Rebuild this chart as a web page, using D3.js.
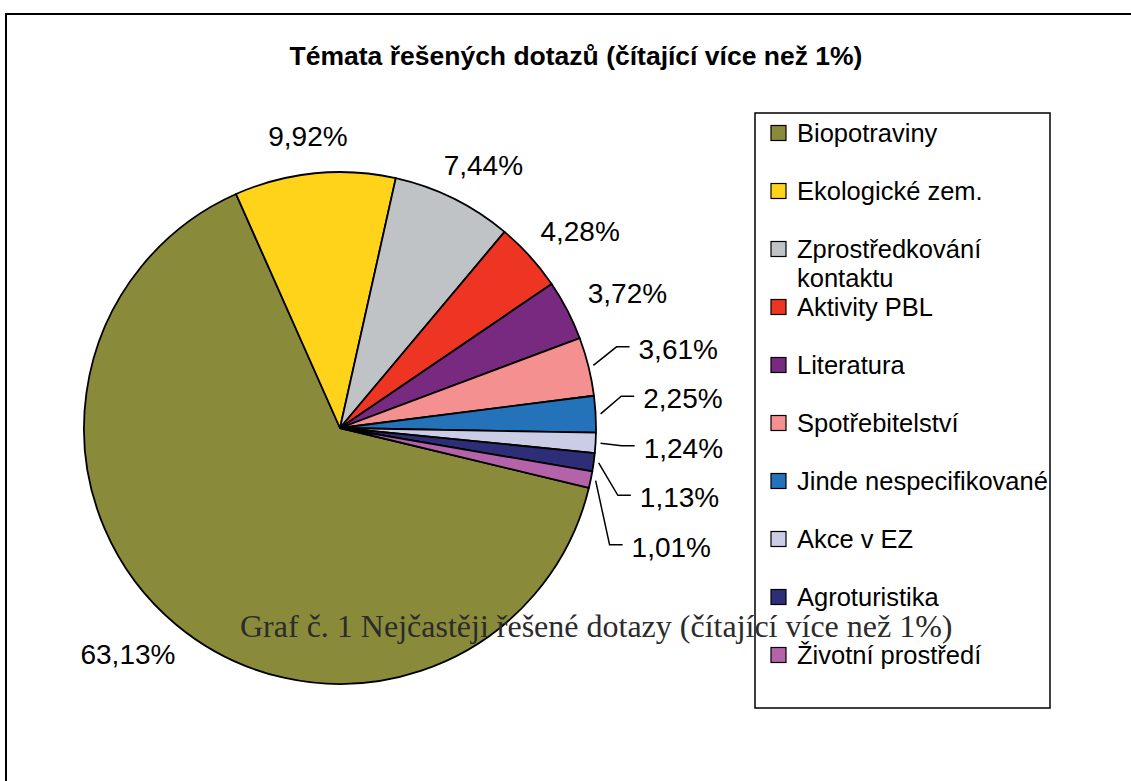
<!DOCTYPE html>
<html>
<head>
<meta charset="utf-8">
<script src="https://cdn.jsdelivr.net/npm/d3@7"></script>
<style>
  body { margin: 0; background: #fff; }
  svg { display: block; font-family: "Liberation Sans", Arial, sans-serif; }
</style>
</head>
<body>
<div id="chart"></div>
<script>
const categories = [
    'Biopotraviny',
    'Ekologické zem.',
    'Zprostředkování kontaktu',
    'Aktivity PBL',
    'Literatura',
    'Spotřebitelství',
    'Jinde nespecifikované',
    'Akce v EZ',
    'Agroturistika',
    'Životní prostředí'
];
const shares = [63.13, 9.92, 7.44, 4.28, 3.72, 3.61, 2.25, 1.24, 1.13, 1.01];
const sliceColors = [
    '#8a8b3a', '#ffd319', '#c0c3c6', '#ee3524', '#782a80',
    '#f49090', '#2472ba', '#cbcde6', '#2e2d78', '#b463aa'
];
const chartTitle = 'Témata řešených dotazů (čítající více než 1%)';
const caption = 'Graf č. 1 Nejčastěji řešené dotazy (čítající více než 1%)';

const width = 1131, height = 781;
const cx = 340, cy = 428, radius = 256;
const startAngle = 103.5 * Math.PI / 180;

const czech = d3.formatLocale({ decimal: ',', thousands: ' ', grouping: [3], currency: ['', ' Kč'] });
const fmt = v => czech.format('.2f')(v) + '%';

const svg = d3.select('#chart').append('svg')
    .attr('width', width)
    .attr('height', height);

// outer frame (only top and left edges are visible in the crop)
svg.append('path')
    .attr('d', `M6,${height} V14 H${width}`)
    .attr('fill', 'none')
    .attr('stroke', '#000')
    .attr('stroke-width', 2);

svg.append('text')
    .attr('x', 576)
    .attr('y', 65)
    .attr('text-anchor', 'middle')
    .style('font-size', '26.5px')
    .style('font-weight', 'bold')
    .text(chartTitle);

// legend
const legendBox = { x: 755, y: 113, w: 295, h: 595 };
const legend = svg.append('g');
legend.append('rect')
    .attr('x', legendBox.x)
    .attr('y', legendBox.y)
    .attr('width', legendBox.w)
    .attr('height', legendBox.h)
    .attr('fill', '#fff')
    .attr('stroke', '#000')
    .attr('stroke-width', 1.5);

const legendY = d3.scalePoint()
    .domain(categories)
    .range([legendBox.y + 20, legendBox.y + legendBox.h - 53]);

const items = legend.selectAll('g.item')
    .data(categories)
    .enter().append('g')
    .attr('class', 'item')
    .attr('transform', d => `translate(${legendBox.x + 16}, ${legendY(d)})`);

items.append('rect')
    .attr('x', 0)
    .attr('y', -7.5)
    .attr('width', 15)
    .attr('height', 15)
    .attr('fill', (d, i) => sliceColors[i])
    .attr('stroke', '#000')
    .attr('stroke-width', 1.2);

items.append('text')
    .attr('x', 26)
    .attr('dy', '0.36em')
    .style('font-size', '25.5px')
    .each(function(d) {
        // wrap long names onto a second line like the original legend
        const t = d3.select(this);
        t.text(d);
        if (this.getComputedTextLength() > 270) {
            const words = d.split(' ');
            t.text(null);
            t.append('tspan').attr('x', 26).text(words.slice(0, -1).join(' '));
            t.append('tspan').attr('x', 26).attr('dy', '1.12em').text(words[words.length - 1]);
        }
    });

// pie
const pie = d3.pie()
    .sort(null)
    .value(d => d)
    .startAngle(startAngle)
    .endAngle(startAngle + 2 * Math.PI);
const arcs = pie(shares);
const arc = d3.arc().innerRadius(0).outerRadius(radius);

const g = svg.append('g')
    .attr('transform', `translate(${cx}, ${cy})`);

g.selectAll('path.slice')
    .data(arcs)
    .enter().append('path')
    .attr('class', 'slice')
    .attr('d', arc)
    .attr('fill', (d, i) => sliceColors[i])
    .attr('stroke', '#000')
    .attr('stroke-width', 1.8)
    .attr('stroke-linejoin', 'round');

// data labels
const smallSlice = 13.5 * Math.PI / 180;
const mid = d => (d.startAngle + d.endAngle) / 2;
const bigArcs = arcs.filter(d => d.endAngle - d.startAngle >= smallSlice);
const smallArcs = arcs.filter(d => d.endAngle - d.startAngle < smallSlice);

const labelSize = 28;
g.selectAll('text.big')
    .data(bigArcs)
    .enter().append('text')
    .attr('class', 'big')
    .attr('text-anchor', 'middle')
    .attr('dy', '0.36em')
    .style('font-size', labelSize + 'px')
    .text(d => fmt(d.data))
    .attr('x', function(d) {
        const a = mid(d), w = this.getComputedTextLength();
        return Math.sin(a) * (radius + 28) + Math.sin(a) * w / 2;
    })
    .attr('y', d => {
        const a = mid(d);
        return -Math.cos(a) * (radius + 28) - Math.cos(a) * 10;
    });

// small slices: stack labels in a column below the topmost one, with leader lines
const labelGap = 49.5;
const firstY = -Math.cos(mid(smallArcs[0])) * (radius + 74);
smallArcs.forEach((d, i) => {
    d.labelY = firstY + i * labelGap;
    d.labelX = 304 * Math.sqrt(Math.max(0, 1 - (d.labelY * d.labelY) / (420 * 420)));
});

g.selectAll('path.leader')
    .data(smallArcs)
    .enter().append('path')
    .attr('class', 'leader')
    .attr('fill', 'none')
    .attr('stroke', '#000')
    .attr('stroke-width', 1.5)
    .attr('d', d => {
        const a = mid(d);
        const sx = Math.sin(a) * (radius + 5), sy = -Math.cos(a) * (radius + 5);
        const ex = d.labelX - 22, ey = d.labelY - 2;
        return `M${sx},${sy} L${ex},${ey} H${d.labelX - 9}`;
    });

g.selectAll('text.small')
    .data(smallArcs)
    .enter().append('text')
    .attr('class', 'small')
    .attr('x', d => d.labelX)
    .attr('y', d => d.labelY)
    .attr('dy', '0.36em')
    .style('font-size', labelSize + 'px')
    .text(d => fmt(d.data));

// figure caption printed over the chart
svg.append('text')
    .attr('x', 240)
    .attr('y', 637)
    .style('font-family', '"Liberation Serif", "Times New Roman", serif')
    .style('font-size', '32px')
    .attr('fill', '#2b2b2b')
    .text(caption);
</script>
</body>
</html>
